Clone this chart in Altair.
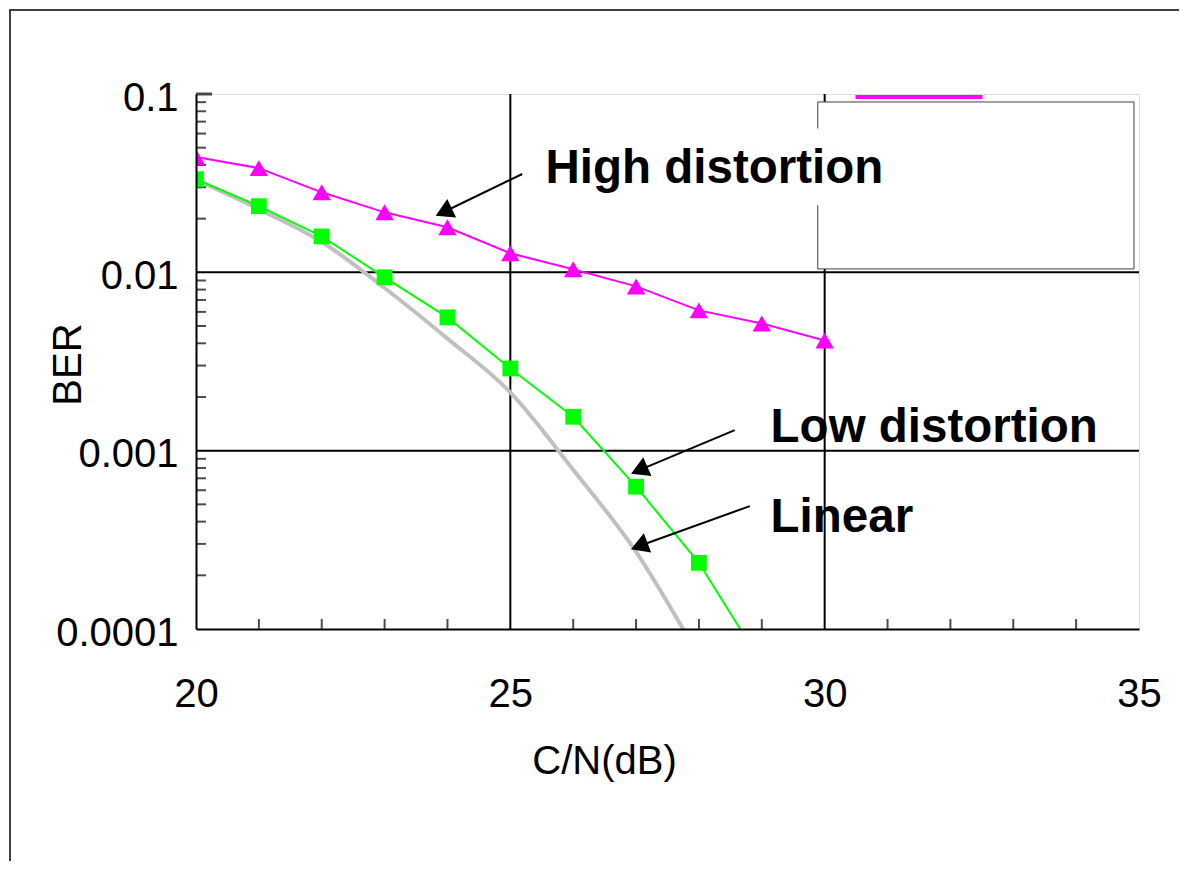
import altair as alt
import pandas as pd

# ---- data ----
cn_high = [20, 21, 22, 23, 24, 25, 26, 27, 28, 29, 30]
ber_high = [0.0443, 0.0384, 0.0281, 0.0217, 0.0179, 0.0128, 0.0104, 0.00834, 0.00612, 0.00517, 0.00415]

cn_low = [20, 21, 22, 23, 24, 25, 26, 27, 28, 29]
ber_low = [0.0333, 0.0235, 0.0159, 0.00938, 0.00559, 0.00289, 0.00155, 0.000628, 0.000235, 0.000064]

cn_lin = [20, 21, 22, 23, 24, 25, 26, 27, 28]
ber_lin = [0.0330, 0.0226, 0.0148, 0.00817, 0.00425, 0.00212, 0.000781, 0.000271, 0.000070]

x_ticks = [20, 25, 30, 35]
y_ticks = [0.1, 0.01, 0.001, 0.0001]
x_grid = [25, 30]
y_grid = [0.01, 0.001]
x_minor = [21, 22, 23, 24, 26, 27, 28, 29, 31, 32, 33, 34]
y_minor = [m * 10.0 ** e for e in (-4, -3, -2) for m in range(2, 10)]
y_major_tick = [0.1]

# annotations (data units)
label_text = ["High distortion", "Low distortion", "Linear"]
label_x = [25.56, 29.14, 29.14]
label_y = [0.0317, 0.001117, 0.000350]

arrow_x = [25.19, 28.57, 28.81]
arrow_y = [0.0356, 0.001305, 0.000489]
arrow_x2 = [23.94, 27.05, 27.05]
arrow_y2 = [0.0218, 0.000778, 0.000292]
arrow_angle = [244.5, 246.5, 249.2]

legend_box_x = [29.89, 34.92]
legend_box_y = [0.0902, 0.01045]
legend_line_x = [30.49, 32.51]
legend_line_y = [0.0962]
textbox_x = [25.35, 31.0]
textbox_y = [0.064, 0.0238]

FONT = "Liberation Sans"
xs = alt.Scale(domain=[20, 35], nice=False, zero=False)
ys = alt.Scale(type="log", domain=[0.0001, 0.1], nice=False)

xaxis = alt.Axis(values=x_ticks, title="C/N(dB)", grid=False, ticks=False, tickSize=0,
                 labelFontSize=40, labelFont=FONT, labelColor="black", labelPadding=45,
                 labelAngle=0, labelFlush=False, labelOverlap=False,
                 domainColor="black", domainWidth=2, zindex=1,
                 titleFont=FONT, titleFontSize=40, titleFontWeight="normal", titleColor="black",
                 titleX=408, titleY=144, titleBaseline="alphabetic", titleAlign="center")
yaxis = alt.Axis(values=y_ticks, title="BER", grid=False, ticks=False, tickSize=0,
                 labelFontSize=40, labelFont=FONT, labelColor="black", labelPadding=18,
                 labelOffset=4, labelFlush=False, labelOverlap=False,
                 labelExpr="datum.value >= 0.1 ? '0.1' : datum.value >= 0.01 ? '0.01' : datum.value >= 0.001 ? '0.001' : '0.0001'",
                 domainColor="black", domainWidth=2, zindex=1,
                 titleFont=FONT, titleFontSize=40, titleFontWeight="normal", titleColor="black",
                 titleX=-116, titleY=270, titleAngle=-90, titleBaseline="alphabetic", titleAlign="center")

X = lambda f="x": alt.X(f"{f}:Q", scale=xs, axis=xaxis)
Y = lambda f="y": alt.Y(f"{f}:Q", scale=ys, axis=yaxis)

df_high = pd.DataFrame({"x": cn_high, "y": ber_high})
df_low = pd.DataFrame({"x": cn_low, "y": ber_low})
df_lin = pd.DataFrame({"x": cn_lin, "y": ber_lin})

frame = alt.Chart(pd.DataFrame({"a": [0]})).mark_rect(
    fill="transparent", stroke="#404040", strokeWidth=2
).encode(x=alt.value(-186), y=alt.value(-84), x2=alt.value(3000), y2=alt.value(3000))

xgrid = alt.Chart(pd.DataFrame({"x": x_grid})).mark_rule(color="black", strokeWidth=2).encode(x=X())
ygrid = alt.Chart(pd.DataFrame({"y": y_grid})).mark_rule(color="black", strokeWidth=2).encode(y=Y())

xminor = alt.Chart(pd.DataFrame({"x": x_minor})).mark_tick(
    color="black", thickness=2, size=10, orient="vertical"
).encode(x=X(), y=alt.value(530))
yminor = alt.Chart(pd.DataFrame({"y": y_minor})).mark_tick(
    color="black", thickness=2, size=10, orient="horizontal"
).encode(y=Y(), x=alt.value(5))
ymajor = alt.Chart(pd.DataFrame({"y": y_major_tick})).mark_tick(
    color="black", thickness=3, size=16, orient="horizontal"
).encode(y=Y(), x=alt.value(8))

legend_box = alt.Chart(pd.DataFrame({"x": [legend_box_x[0]], "x2": [legend_box_x[1]],
                                     "y": [legend_box_y[0]], "y2": [legend_box_y[1]]})).mark_rect(
    fill="white", stroke="#404040", strokeWidth=1
).encode(x=X(), x2="x2:Q", y=Y(), y2="y2:Q")

legend_line = alt.Chart(pd.DataFrame({"x": [legend_line_x[0]], "x2": [legend_line_x[1]],
                                      "y": legend_line_y})).mark_rule(
    color="#FF00FF", strokeWidth=4
).encode(x=X(), x2="x2:Q", y=Y())

text_box = alt.Chart(pd.DataFrame({"x": [textbox_x[0]], "x2": [textbox_x[1]],
                                   "y": [textbox_y[0]], "y2": [textbox_y[1]]})).mark_rect(
    fill="white", strokeWidth=0
).encode(x=X(), x2="x2:Q", y=Y(), y2="y2:Q")

line_lin = alt.Chart(df_lin).mark_line(color="#C0C0C0", strokeWidth=4, interpolate="monotone", clip=True).encode(x=X(), y=Y())
line_low = alt.Chart(df_low).mark_line(color="#00FF00", strokeWidth=2, clip=True).encode(x=X(), y=Y())
line_high = alt.Chart(df_high).mark_line(color="#FF00FF", strokeWidth=2, clip=True).encode(x=X(), y=Y())

pts_low = alt.Chart(df_low).mark_point(shape="square", filled=True, size=250, opacity=1,
                                       color="#00FF00", clip=True).encode(x=X(), y=Y())
pts_high = alt.Chart(df_high).mark_point(shape="triangle-up", filled=True, size=340, opacity=1,
                                         color="#FF00FF", clip=True).encode(x=X(), y=Y())

df_arrow = pd.DataFrame({"x": arrow_x, "y": arrow_y, "x2": arrow_x2, "y2": arrow_y2, "angle": arrow_angle})
arrows = alt.Chart(df_arrow).mark_rule(color="black", strokeWidth=2).encode(x=X(), y=Y(), x2="x2:Q", y2="y2:Q")
heads = alt.Chart(df_arrow).mark_point(shape="triangle-up", filled=True, size=420, opacity=1, color="black").encode(
    x=X("x2"), y=Y("y2"), angle=alt.Angle("angle:Q", scale=None))

labels = alt.Chart(pd.DataFrame({"x": label_x, "y": label_y, "t": label_text})).mark_text(
    font=FONT, fontSize=47.5, fontWeight="bold", align="left", baseline="alphabetic", color="black"
).encode(x=X(), y=Y(), text="t:N")

chart = alt.layer(
    frame, xgrid, ygrid, xminor, yminor, ymajor, legend_box, legend_line, text_box,
    line_lin, line_low, line_high, pts_low, pts_high, arrows, heads, labels
).properties(
    width=943, height=535,
    padding={"left": 188, "top": 86, "right": 40, "bottom": 232},
    autosize=alt.AutoSizeParams(type="none"),
).configure_view(stroke="#808080", strokeWidth=2).configure(background="white")

chart.save("out.html", embed_options={"renderer": "svg", "actions": False})
